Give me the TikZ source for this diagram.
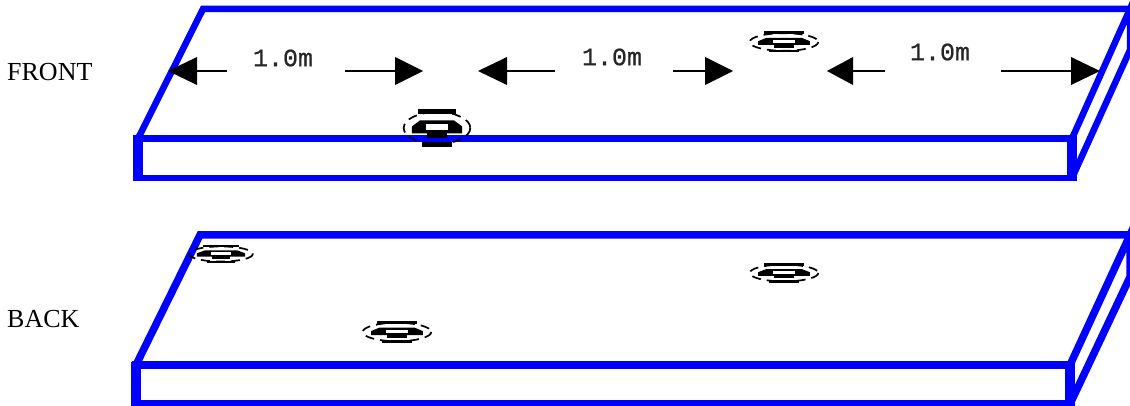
\documentclass[tikz,border=0pt]{standalone}
\usepackage{fontspec}
\setmainfont{Liberation Serif}
\newfontfamily\dimfont[FakeBold=0.7]{Liberation Mono}
\definecolor{slab}{RGB}{0,0,255}
\tikzset{
  x=1pt,y=-1pt,
  edge/.style={draw=slab,line width=6.5pt,line join=miter},
  post/.style={draw=slab,line width=10pt,shorten <=-3pt,shorten >=-3pt},
  sidelabel/.style={font=\fontsize{26}{28}\selectfont,anchor=base west,inner sep=0pt},
  dim/.style={font=\dimfont\fontsize{25}{27}\selectfont,text=black!85,inner sep=0pt},
  dimline/.style={draw=black,line width=1.4pt},
  tip/.style={fill=black,draw=none},
  pics/sensor/.style args={#1/#2}{code={
    \draw[black,line width=1.7pt,dash pattern=on 9pt off 6pt] (0,0) ellipse ({#1*0.49} and {#2*0.42});
    \fill[black] ({-#1*0.28},{-#2*0.50}) rectangle ({#1*0.28},{-#2*0.37});
    \fill[black] ({-#1*0.22},{#2*0.37}) rectangle ({#1*0.22},{#2*0.50});
    \fill[black] ({-#1*0.37},{-#2*0.04}) -- ({-#1*0.25},{-#2*0.20}) -- ({#1*0.25},{-#2*0.20}) -- ({#1*0.37},{-#2*0.04}) -- ({#1*0.37},{#2*0.14}) -- ({-#1*0.37},{#2*0.14}) -- cycle;
    \fill[black] ({-#1*0.14},{#2*0.10}) rectangle ({#1*0.14},{#2*0.27});
    \fill[white] ({-#1*0.16},{-#2*0.10}) rectangle ({#1*0.16},{#2*0.05});
  }}
}
\begin{document}
\begin{tikzpicture}
\useasboundingbox (0,0) rectangle (1130,406);
\coordinate (a1) at (138,138.5); \coordinate (a2) at (1072,138.5);
\coordinate (a3) at (1072,178); \coordinate (a4) at (138,178);
\coordinate (a5) at (203,9); \coordinate (a6) at (1130,9);
\coordinate (a7) at (1130,50);
\draw[edge] (a4) -- (a1) -- (a2) -- (a3) -- cycle;
\draw[edge] (a1) -- (a5) -- (a6);
\draw[edge] (a2) -- (a6) -- (a7) -- (a3);
\draw[post] (a1) -- (a4);
\draw[post] (a2) -- (a3);
\coordinate (b1) at (136,365); \coordinate (b2) at (1070,365);
\coordinate (b3) at (1070,404); \coordinate (b4) at (136,404);
\coordinate (b5) at (200,235); \coordinate (b6) at (1130,235);
\coordinate (b7) at (1130,277);
\draw[edge,line width=7.5pt] (b4) -- (b1) -- (b2) -- (b3) -- cycle;
\draw[edge,line width=7.5pt] (b1) -- (b5) -- (b6);
\draw[edge,line width=7.5pt] (b2) -- (b6) -- (b7) -- (b3);
\draw[post] (b1) -- (b4);
\draw[post] (b2) -- (b3);
\node[sidelabel] (front) at (7,81) {FRONT};
\node[sidelabel] (back) at (7,327) {BACK};
\node[dim] (d1) at (283,58) {1.0m};
\node[dim] (d2) at (612,57) {1.0m};
\node[dim] (d3) at (940,52) {1.0m};
\foreach \n/\a/\b/\c in {l1/227/197/168,r1/345/395/423,l2/555/507/478,r2/673/705/733,l3/885/853/827,r3/1001/1071/1100}{
  \coordinate (\n s) at (\a,71); \coordinate (\n b) at (\b,71); \coordinate (\n t) at (\c,71);
  \draw[dimline] (\n s) -- (\n b);
  \fill[tip] (\b,57) -- (\n t) -- (\b,85) -- cycle;
}
\pic at (437,128) {sensor={68/38}};
\pic at (784,42) {sensor={70/21}};
\pic at (221,254) {sensor={65/18}};
\pic at (397,332) {sensor={70/22}};
\pic at (784,273) {sensor={70/20}};
\end{tikzpicture}
\end{document}
